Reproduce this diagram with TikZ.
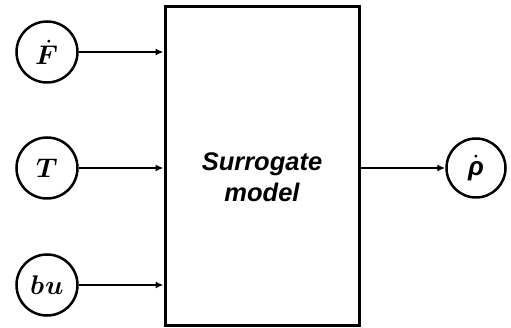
\documentclass[tikz,border=0pt]{standalone}
\usepackage{amsmath}
\usepackage{fontspec}
\usepackage{unicode-math}
\setmathfont{Latin Modern Math}
\newfontfamily\arialbi{Liberation Sans}[BoldFont={* Bold},ItalicFont={* Italic},BoldItalicFont={* Bold Italic}]
\usetikzlibrary{arrows.meta}
\begin{document}
\begin{tikzpicture}[x=1pt,y=-1pt,
  var/.style={draw,circle,line width=2.5pt,minimum size=61pt,inner sep=0pt,font=\fontsize{27}{29}\selectfont},
  model/.style={draw,line width=3pt,minimum width=194pt,minimum height=319pt,inner sep=0pt},
  label/.style={align=center,inner sep=0pt,font=\arialbi\bfseries\itshape\fontsize{25.5}{31}\selectfont},
  conn/.style={line width=2.4pt,-{Latex[length=8pt,width=7pt]}}]
\useasboundingbox (0,0) rectangle (511,328);
\node[model] (m) at (262,166.5) {};
\node[label] (mt) at (262,177) {Surrogate\\model};
\node[var] (f) at (47,52) {$\dot{\symbfit{F}}$};
\node[var] (t) at (47,168) {$\symbfit{T}$};
\node[var] (b) at (47,285) {$\symbfit{bu}$};
\node[var,minimum size=59pt] (r) at (476,168) {$\dot{\text{\arialbi\bfseries\itshape\fontsize{26}{28}\selectfont ρ}}$};
\draw[conn] (f.east) -- (f.east -| m.west);
\draw[conn] (t.east) -- (t.east -| m.west);
\draw[conn] (b.east) -- (b.east -| m.west);
\draw[conn] (m.east |- r.west) -- (r.west);
\end{tikzpicture}
\end{document}
